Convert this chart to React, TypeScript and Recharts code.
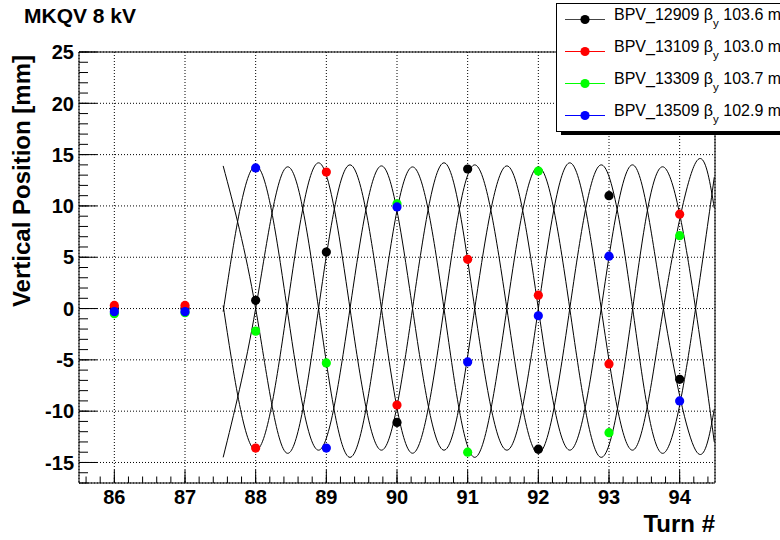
import React from 'react';
import { ComposedChart, Line, Scatter, XAxis, YAxis, CartesianGrid, ReferenceArea } from 'recharts';

// ---- measured data (turn number vs vertical position in mm) ----
const turns = [86, 87, 88, 89, 90, 91, 92, 93, 94];
const bpv12909 = [0.0, 0.0, 0.8, 5.5, -11.1, 13.6, -13.7, 11.0, -6.9];
const bpv13109 = [0.3, 0.3, -13.6, 13.3, -9.4, 4.8, 1.3, -5.4, 9.2];
const bpv13309 = [-0.5, -0.4, -2.2, -5.3, 10.2, -14.0, 13.4, -12.1, 7.1];
const bpv13509 = [-0.3, -0.3, 13.7, -13.6, 9.9, -5.2, -0.7, 5.1, -9.0];

// ---- fitted oscillation curves, key points ----
const fitTurns = [87.54, 88.0, 88.445, 88.89, 89.335, 89.78, 90.22, 90.665, 91.1, 91.555, 92.0, 92.445, 92.89, 93.335, 93.77, 94.225, 94.49];
const fit12909 = [13.9, 0, -14.1, 0, 14.0, 0, -14.1, 0, 14.0, 0, -14.1, 0, 14.0, 0, -14.1, 0, 12.8];
const fit13109 = [0.3, -13.8, 0, 14.2, 0, -13.8, 0, 14.2, 0, -13.8, 0, 14.2, 0, -13.8, 0, 14.2, 9.8];
const fit13309 = [-14.5, 0, 13.8, 0, -14.5, 0, 13.8, 0, -14.5, 0, 13.8, 0, -14.5, 0, 13.8, 0, -13.0];
const fit13509 = [-0.3, 13.9, 0, -13.8, 0, 13.9, 0, -13.8, 0, 13.9, 0, -13.8, 0, 14.0, 0, -13.8, -9.8];

// ---- legend ----
const seriesNames = ['BPV_12909', 'BPV_13109', 'BPV_13309', 'BPV_13509'];
const seriesBetas = ['103.6', '103.0', '103.7', '102.9'];
const seriesColors = ['#000000', '#ff0000', '#00ff00', '#0000ff'];
const legendLineColors = ['#444444', '#ff0000', '#00ff00', '#0000ff'];

// ---- axes ----
const xDomain = [85.5, 94.5];
const yDomain = [-17, 25];
const xMajor = [86, 87, 88, 89, 90, 91, 92, 93, 94];
const xMinor = [85.6, 85.8, 86, 86.2, 86.4, 86.6, 86.8, 87, 87.2, 87.4, 87.6, 87.8, 88, 88.2, 88.4, 88.6, 88.8, 89, 89.2, 89.4, 89.6, 89.8, 90, 90.2, 90.4, 90.6, 90.8, 91, 91.2, 91.4, 91.6, 91.8, 92, 92.2, 92.4, 92.6, 92.8, 93, 93.2, 93.4, 93.6, 93.8, 94, 94.2, 94.4];
const yMajor = [-15, -10, -5, 0, 5, 10, 15, 20, 25];
const yMinor = [-17, -16, -15, -14, -13, -12, -11, -10, -9, -8, -7, -6, -5, -4, -3, -2, -1, 0, 1, 2, 3, 4, 5, 6, 7, 8, 9, 10, 11, 12, 13, 14, 15, 16, 17, 18, 19, 20, 21, 22, 23, 24, 25];

const FONT = '"Liberation Sans", Arial, Helvetica, sans-serif';
const X_GAP = 21;
const Y_GAP = 5;

const zip = (xs: number[], ys: number[]) => xs.map((t, i) => ({ t, v: ys[i] }));

const points = [bpv12909, bpv13109, bpv13309, bpv13509].map((s) => zip(turns, s));
const fits = [fit12909, fit13109, fit13309, fit13509].map((s) => zip(fitTurns, s));

// major x axis sits directly under the frame (1px tall), minor one 1px lower
const XMajorTick = (props: any) => {
  const { x, y, payload } = props;
  return (
    <g>
      <line x1={x} x2={x} y1={y - X_GAP} y2={y - X_GAP - 13} stroke="#000" strokeWidth={1} />
      <text x={x} y={y} textAnchor="middle" fontFamily={FONT} fontWeight="bold" fontSize={20} fill="#000">
        {payload.value}
      </text>
    </g>
  );
};
const XMinorTick = (props: any) => {
  const { x, y } = props;
  return <line x1={x} x2={x} y1={y - 1} y2={y - 7.5} stroke="#000" strokeWidth={1} />;
};
const YMajorTick = (props: any) => {
  const { x, y, payload } = props;
  return (
    <g>
      <line x1={x + Y_GAP} x2={x + Y_GAP + 18} y1={y} y2={y} stroke="#000" strokeWidth={1} />
      <text x={x} y={y} dy="0.36em" textAnchor="end" fontFamily={FONT} fontWeight="bold" fontSize={20} fill="#000">
        {payload.value}
      </text>
    </g>
  );
};
const YMinorTick = (props: any) => {
  const { x, y } = props;
  return <line x1={x + 1} x2={x + 10} y1={y} y2={y} stroke="#000" strokeWidth={1} />;
};

const makeDot = (color: string) => (p: any) => <circle cx={p.cx} cy={p.cy} r={4.6} fill={color} />;

export default function App() {
  return (
    <div style={{ position: 'absolute', left: 0, top: 0, width: 780, height: 540, background: '#fff', overflow: 'hidden' }}>
      <ComposedChart width={780} height={540} margin={{ top: 52, right: 65, bottom: 55, left: 77 }}>
        <XAxis xAxisId={0} type="number" dataKey="t" domain={xDomain} allowDataOverflow ticks={xMajor} interval={0}
          height={1} axisLine={false} tickLine={false} tickSize={0} tickMargin={X_GAP} tick={<XMajorTick />} />
        <XAxis xAxisId="mx" type="number" dataKey="t" domain={xDomain} allowDataOverflow ticks={xMinor} interval={0}
          height={1} axisLine={false} tickLine={false} tickSize={0} tickMargin={0} tick={<XMinorTick />} />
        <YAxis yAxisId={0} type="number" dataKey="v" domain={yDomain} allowDataOverflow ticks={yMajor} interval={0}
          width={1} axisLine={false} tickLine={false} tickSize={0} tickMargin={Y_GAP} tick={<YMajorTick />} />
        <YAxis yAxisId="my" type="number" dataKey="v" domain={yDomain} allowDataOverflow ticks={yMinor} interval={0}
          width={1} axisLine={false} tickLine={false} tickSize={0} tickMargin={0} tick={<YMinorTick />} />
        <CartesianGrid xAxisId={0} yAxisId={0} stroke="#000" strokeDasharray="1 2" fill="none" />
        <ReferenceArea xAxisId={0} yAxisId={0} x1={xDomain[0]} x2={xDomain[1]} y1={yDomain[0]} y2={yDomain[1]}
          fill="none" stroke="#000" strokeWidth={1} ifOverflow="visible" />
        {fits.map((d, i) => (
          <Line key={'f' + i} xAxisId={0} yAxisId={0} data={d} dataKey="v" type="natural" stroke="#000"
            strokeWidth={1} dot={false} activeDot={false} isAnimationActive={false} />
        ))}
        {points.map((d, i) => (
          <Scatter key={'p' + i} xAxisId={0} yAxisId={0} data={d} fill={seriesColors[i]}
            shape={makeDot(seriesColors[i])} isAnimationActive={false} />
        ))}
      </ComposedChart>
      <svg width={780} height={540} style={{ position: 'absolute', left: 0, top: 0, pointerEvents: 'none' }}>
        <text x={24} y={23} fontFamily={FONT} fontWeight="bold" fontSize={21} fill="#000">MKQV 8 kV</text>
        <text x={715} y={532} textAnchor="end" fontFamily={FONT} fontWeight="bold" fontSize={24} fill="#000">Turn #</text>
        <text x={30} y={55} transform="rotate(-90 30 55)" textAnchor="end" fontFamily={FONT} fontWeight="bold" fontSize={24} fill="#000">
          Vertical Position [mm]
        </text>
        <rect x={561} y={131.5} width={230} height={3.5} fill="#000" />
        <rect x={556.5} y={3.5} width={240} height={128} fill="#fff" stroke="#000" strokeWidth={1} />
        {seriesNames.map((name, i) => {
          const cy = 19.5 + 32 * i;
          return (
            <g key={name}>
              <line x1={565} x2={605} y1={cy} y2={cy} stroke={legendLineColors[i]} strokeWidth={1} />
              <circle cx={585} cy={cy} r={4.6} fill={seriesColors[i]} />
              <text x={614} y={cy} fontFamily={FONT} fontSize={16} fill="#000">
                {name} β<tspan fontSize={11.5} dy={7}>y</tspan>
                <tspan dy={-7}>{' ' + seriesBetas[i] + ' m'}</tspan>
              </text>
            </g>
          );
        })}
      </svg>
    </div>
  );
}
